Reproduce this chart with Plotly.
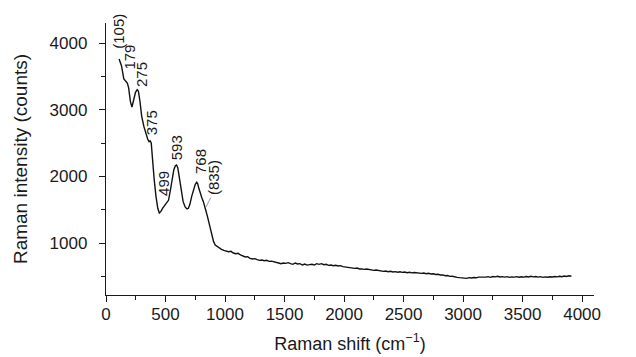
import plotly.graph_objects as go

shift_cm = [110, 130, 150, 165, 179, 190, 205, 218, 232, 248, 262, 272, 285, 300, 318, 335, 350, 362, 372, 380,
            392, 405, 420, 435, 448, 460, 475, 490, 500, 512, 525, 540, 555, 570, 583, 593, 603, 615, 630, 648,
            665, 680, 692, 705, 720, 735, 750, 762, 770, 780, 792, 805, 818, 830, 840, 852, 865, 878, 890, 904,
            918, 932, 950, 970, 990, 1010,
            1030, 1050, 1070, 1090, 1110, 1130, 1150, 1170, 1190, 1210, 1230, 1250, 1270, 1290, 1310, 1330, 1350,
            1370, 1390, 1410, 1430, 1450, 1470, 1490, 1510, 1530, 1550, 1570, 1590, 1610, 1630, 1650, 1670, 1690,
            1710, 1730, 1750, 1770, 1790, 1810, 1830, 1850, 1870, 1890, 1910, 1930, 1950, 1970, 1990, 2010, 2030,
            2050, 2070, 2090, 2110, 2130, 2150, 2170, 2190, 2210, 2230, 2250, 2270, 2290, 2310, 2330, 2350, 2370,
            2390, 2410, 2430, 2450, 2470, 2490, 2510, 2530, 2550, 2570, 2590, 2610, 2630, 2650, 2670, 2690, 2710,
            2730, 2750, 2770, 2790, 2810, 2830, 2850, 2870, 2890, 2910, 2930, 2950, 2970, 2990, 3010, 3030, 3050,
            3070, 3090, 3110, 3130, 3150, 3170, 3190, 3210, 3230, 3250, 3270, 3290, 3310, 3330, 3350, 3370, 3390,
            3410, 3430, 3450, 3470, 3490, 3510, 3530, 3550, 3570, 3590, 3610, 3630, 3650, 3670, 3690, 3710, 3730,
            3750, 3770, 3790, 3810, 3830, 3850, 3870, 3890, 3910]

intensity = [3760, 3660, 3460, 3420, 3400, 3330, 3120, 3040, 3130, 3260, 3300, 3280, 3130, 2900, 2750, 2640, 2560,
             2520, 2530, 2500, 2200, 1950, 1700, 1520, 1450, 1470, 1520, 1560, 1580, 1600, 1640, 1780, 1950, 2100,
             2160, 2170, 2130, 2000, 1800, 1620, 1540, 1510, 1520, 1580, 1700, 1810, 1880, 1910, 1890, 1820, 1740,
             1680, 1620, 1560, 1480, 1400, 1300, 1200, 1100, 1020, 970, 950, 920, 905, 890, 880,
             870, 875, 850, 840, 845, 820, 800, 790, 795, 770, 760, 765, 750, 740, 745, 735, 740,
             725, 728, 715, 705, 700, 690, 700, 695, 705, 690, 680, 700, 685, 690, 670, 685, 668,
             675, 680, 670, 690, 680, 690, 675, 680, 665, 670, 660, 665, 655, 660, 645, 640, 630,
             635, 625, 620, 625, 610, 612, 605, 610, 600, 598, 590, 595, 585, 580, 575, 580, 570,
             575, 565, 570, 562, 568, 560, 565, 555, 560, 552, 558, 550, 552, 545, 550, 540, 545,
             535, 538, 528, 530, 520, 522, 510, 512, 500, 502, 490, 485, 480, 475, 478, 470, 480,
             475, 482, 478, 488, 485, 492, 488, 495, 485, 498, 492, 500, 490, 496, 488, 495, 485,
             492, 488, 496, 486, 494, 488, 498, 490, 500, 492, 498, 488, 495, 485, 492, 486, 494,
             490, 498, 492, 500, 495, 505, 498, 508, 502]

peak_labels = ["(105)", "179", "275", "375", "499", "593", "768", "(835)"]
label_x = [110, 190, 300, 380, 478, 590, 790, 900]
label_y = [4170, 3790, 3530, 2800, 1900, 2425, 2215, 1975]

x_ticks = [0, 500, 1000, 1500, 2000, 2500, 3000, 3500, 4000]
y_ticks = [1000, 2000, 3000, 4000]

FONT = "Liberation Sans, Arial, sans-serif"
INK = "#1a1a1a"

fig = go.Figure()
fig.add_trace(go.Scatter(x=shift_cm, y=intensity, mode="lines",
                         line=dict(color="#111111", width=1.4), showlegend=False))

for t, xx, yy in zip(peak_labels, label_x, label_y):
    fig.add_annotation(x=xx, y=yy, text=t, showarrow=False, textangle=-90,
                       xanchor="center", yanchor="middle",
                       font=dict(family=FONT, size=15, color=INK))

fig.add_shape(type="line", x0=840, y0=1540, x1=880, y1=1680, line=dict(color="#999999", width=1))

fig.update_layout(
    width=636, height=357,
    margin=dict(l=95, r=50, t=15, b=70),
    paper_bgcolor="white", plot_bgcolor="white",
    font=dict(family=FONT, size=17, color=INK),
)
fig.update_xaxes(
    range=[0, 4100], tickvals=x_ticks, ticks="outside", ticklen=6, tickwidth=1.2, tickcolor=INK,
    showline=True, linecolor=INK, linewidth=1.3, showgrid=False, zeroline=False,
    minor=dict(dtick=250, tick0=0, ticks="outside", ticklen=4, tickwidth=1.2, tickcolor=INK),
    ticklabelstandoff=-3,
    tickfont=dict(size=17), title=dict(text="Raman shift (cm<sup>−1</sup>)", font=dict(size=18), standoff=14),
)
fig.update_yaxes(
    range=[220, 4300], tickvals=y_ticks, ticks="outside", ticklen=6, tickwidth=1.2, tickcolor=INK,
    showline=True, linecolor=INK, linewidth=1.3, showgrid=False, zeroline=False,
    minor=dict(dtick=500, tick0=0, ticks="outside", ticklen=4, tickwidth=1.2, tickcolor=INK),
    ticklabelstandoff=8,
    tickfont=dict(size=17), title=dict(text="Raman intensity (counts)", font=dict(size=19), standoff=16),
)

fig.write_html("out.html")
